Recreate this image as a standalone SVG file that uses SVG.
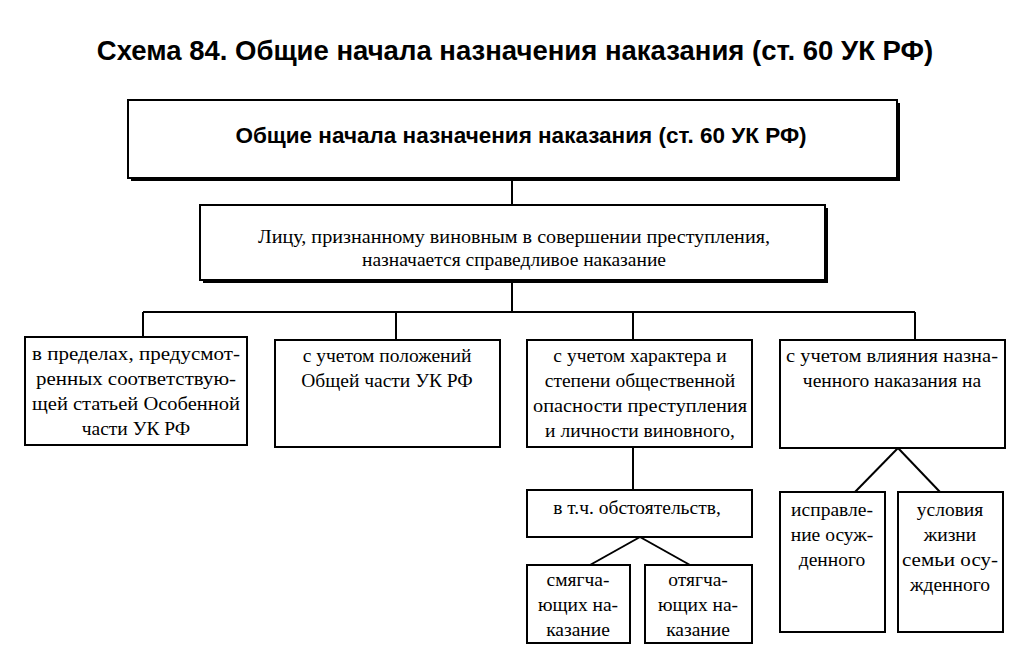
<svg xmlns="http://www.w3.org/2000/svg" width="1024" height="653" viewBox="0 0 1024 653">
<style>
.b{fill:#fff;stroke:#000;stroke-width:2}
.s{fill:#000}
.t{font-family:"Liberation Serif",serif;font-size:19.5px;text-anchor:middle;fill:#000}
.h{font-family:"Liberation Sans",Arial,sans-serif;font-weight:bold;text-anchor:middle;fill:#000}
#c line{stroke:#000;stroke-width:2}
</style>
<rect width="1024" height="653" fill="#fff"/>
<text class="h" x="515" y="60" font-size="27.5">Схема 84. Общие начала назначения наказания (ст. 60 УК РФ)</text>
<g id="c">
<line x1="512" y1="178" x2="512" y2="205"/>
<line x1="512" y1="282" x2="512" y2="312"/>
<line x1="143" y1="312" x2="915" y2="312"/>
<line x1="143" y1="312" x2="143" y2="337"/>
<line x1="396" y1="312" x2="396" y2="340"/>
<line x1="633" y1="312" x2="633" y2="340"/>
<line x1="915" y1="312" x2="915" y2="340"/>
<line x1="633" y1="447" x2="633" y2="490"/>
<line x1="640" y1="537" x2="590" y2="565"/>
<line x1="640" y1="537" x2="690" y2="565"/>
<line x1="898" y1="448" x2="855" y2="492"/>
<line x1="898" y1="448" x2="940" y2="492"/>
</g>
<g id="n1"><rect class="s" x="131" y="103" width="769" height="78"/><rect class="b" x="128" y="100" width="769" height="78"/>
<text class="h" x="521" y="143" font-size="22.5">Общие начала назначения наказания (ст. 60 УК РФ)</text></g>
<g id="n2"><rect class="s" x="203" y="208" width="625" height="75"/><rect class="b" x="200" y="205" width="625" height="75"/>
<text class="t" x="514" y="243" textLength="512" lengthAdjust="spacingAndGlyphs">Лицу, признанному виновным в совершении преступления,</text>
<text class="t" x="514" y="266">назначается справедливое наказание</text></g>
<g id="n3"><rect class="b" x="25" y="337" width="222" height="108"/>
<text class="t" x="136" y="360" textLength="208" lengthAdjust="spacingAndGlyphs">в пределах, предусмот-</text>
<text class="t" x="136" y="385" textLength="200" lengthAdjust="spacingAndGlyphs">ренных соответствую-</text>
<text class="t" x="136" y="410" textLength="208" lengthAdjust="spacingAndGlyphs">щей статьей Особенной</text>
<text class="t" x="136" y="435">части УК РФ</text></g>
<g id="n4"><rect class="b" x="275" y="340" width="225" height="107"/>
<text class="t" x="387" y="362">с учетом положений</text>
<text class="t" x="387" y="387">Общей части УК РФ</text></g>
<g id="n5"><rect class="b" x="527" y="340" width="225" height="107"/>
<text class="t" x="640" y="362">с учетом характера и</text>
<text class="t" x="640" y="387">степени общественной</text>
<text class="t" x="640" y="412" textLength="214" lengthAdjust="spacingAndGlyphs">опасности преступления</text>
<text class="t" x="640" y="437">и личности виновного,</text></g>
<g id="n6"><rect class="b" x="780" y="340" width="225" height="108"/>
<text class="t" x="892" y="362" textLength="212" lengthAdjust="spacingAndGlyphs">с учетом влияния назна-</text>
<text class="t" x="892" y="387">ченного наказания на</text></g>
<g id="n7"><rect class="b" x="527" y="490" width="225" height="47"/>
<text class="t" x="637" y="514">в т.ч. обстоятельств,</text></g>
<g id="n8"><rect class="b" x="527" y="565" width="103" height="78"/>
<text class="t" x="578" y="586">смягча-</text>
<text class="t" x="578" y="611">ющих на-</text>
<text class="t" x="578" y="636">казание</text></g>
<g id="n9"><rect class="b" x="645" y="565" width="107" height="78"/>
<text class="t" x="698" y="586">отягча-</text>
<text class="t" x="698" y="611">ющих на-</text>
<text class="t" x="698" y="636">казание</text></g>
<g id="n10"><rect class="b" x="780" y="492" width="105" height="140"/>
<text class="t" x="832" y="516">исправле-</text>
<text class="t" x="832" y="541">ние осуж-</text>
<text class="t" x="832" y="566">денного</text></g>
<g id="n11"><rect class="b" x="898" y="492" width="105" height="140"/>
<text class="t" x="950" y="516">условия</text>
<text class="t" x="950" y="541">жизни</text>
<text class="t" x="950" y="566" textLength="96" lengthAdjust="spacingAndGlyphs">семьи осу-</text>
<text class="t" x="950" y="591">жденного</text></g>
</svg>
